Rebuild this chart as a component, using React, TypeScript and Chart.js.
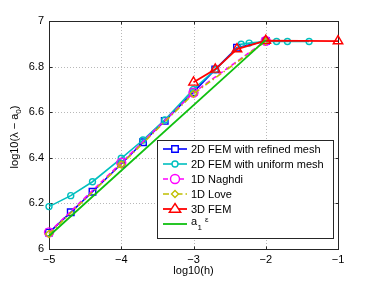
import React, { useEffect, useRef } from "react";
import { Chart, registerables } from "chart.js";

Chart.register(...registerables);

const xTicks = [-5, -4, -3, -2, -1];
const yTicks = [6, 6.2, 6.4, 6.6, 6.8, 7];

const refinedX = [-5, -4.699, -4.398, -4, -3.699, -3.398, -3, -2.699, -2.398, -2];
const refinedY = [6.072, 6.161, 6.251, 6.373, 6.468, 6.562, 6.688, 6.788, 6.883, 6.912];

const uniformX = [-5, -4.699, -4.398, -4, -3.699, -3.398, -3, -2.699, -2.34, -2.23, -2, -1.85, -1.7, -1.4];
const uniformY = [6.186, 6.234, 6.295, 6.398, 6.478, 6.566, 6.7, 6.786, 6.898, 6.903, 6.91, 6.91, 6.91, 6.91];

const naghdiX = [-5, -4, -3, -2];
const naghdiY = [6.073, 6.378, 6.686, 6.913];

const loveX = [-5, -4, -3, -2];
const loveY = [6.066, 6.371, 6.681, 6.911];

const fem3dX = [-3, -2.699, -2.398, -2, -1];
const fem3dY = [6.731, 6.788, 6.877, 6.914, 6.912];

const epsX = [-5, -2];
const epsY = [6.057, 6.917];

const labels = [
  "2D FEM with refined mesh",
  "2D FEM with uniform mesh",
  "1D Naghdi",
  "1D Love",
  "3D FEM",
  "a1 ε",
];

const FONT = "'Liberation Sans', Arial, Helvetica, sans-serif";

const pts = (xs: number[], ys: number[]) => xs.map((x, i) => ({ x, y: ys[i] }));

const fmtMinus = (v: number) => {
  const r = Math.round(v * 1000) / 1000;
  const s = Math.abs(r).toString();
  return r < 0 ? "\u2212" + s : s;
};

function drawMarker(ctx: CanvasRenderingContext2D, style: string, x: number, y: number, r: number) {
  ctx.beginPath();
  if (style === "circle") {
    ctx.arc(x, y, r, 0, Math.PI * 2);
  } else if (style === "rect") {
    const s = r * Math.SQRT1_2;
    ctx.rect(x - s, y - s, 2 * s, 2 * s);
  } else if (style === "rectRot") {
    ctx.moveTo(x, y - r);
    ctx.lineTo(x + r, y);
    ctx.lineTo(x, y + r);
    ctx.lineTo(x - r, y);
    ctx.closePath();
  } else if (style === "triangle") {
    ctx.moveTo(x, y - r);
    ctx.lineTo(x + r * 1.04, y + r * 0.6);
    ctx.lineTo(x - r * 1.04, y + r * 0.6);
    ctx.closePath();
  }
  ctx.fill();
  ctx.stroke();
}

export default function App() {
  const ref = useRef<HTMLCanvasElement | null>(null);

  useEffect(() => {
    document.body.style.margin = "0";
    const canvas = ref.current;
    if (!canvas) return;

    const framePlugin = {
      id: "frame",
      beforeDatasetsDraw(chart: any) {
        const { ctx, chartArea: a, scales } = chart;
        const xs = scales.x, ys = scales.y;
        ctx.save();
        ctx.strokeStyle = "#b8b8b8";
        ctx.lineWidth = 1;
        ctx.setLineDash([1, 2]);
        xTicks.forEach((t) => {
          const px = Math.round(xs.getPixelForValue(t)) + 0.5;
          ctx.beginPath();
          ctx.moveTo(px, a.top);
          ctx.lineTo(px, a.bottom);
          ctx.stroke();
        });
        yTicks.forEach((t) => {
          const py = Math.round(ys.getPixelForValue(t)) + 0.5;
          ctx.beginPath();
          ctx.moveTo(a.left, py);
          ctx.lineTo(a.right, py);
          ctx.stroke();
        });
        ctx.setLineDash([]);
        ctx.strokeStyle = "#262626";
        ctx.lineWidth = 1;
        const L = Math.round(a.left) + 0.5, R = Math.round(a.right) + 0.5;
        const T = Math.round(a.top) + 0.5, B = Math.round(a.bottom) + 0.5;
        ctx.strokeRect(L, T, R - L, B - T);
        const tl = 3;
        xTicks.forEach((t) => {
          const px = Math.round(xs.getPixelForValue(t)) + 0.5;
          ctx.beginPath();
          ctx.moveTo(px, B); ctx.lineTo(px, B - tl);
          ctx.moveTo(px, T); ctx.lineTo(px, T + tl);
          ctx.stroke();
        });
        yTicks.forEach((t) => {
          const py = Math.round(ys.getPixelForValue(t)) + 0.5;
          ctx.beginPath();
          ctx.moveTo(L, py); ctx.lineTo(L + tl, py);
          ctx.moveTo(R, py); ctx.lineTo(R - tl, py);
          ctx.stroke();
        });
        ctx.restore();
      },
      afterDraw(chart: any) {
        const { ctx, chartArea: a } = chart;
        ctx.save();
        ctx.fillStyle = "#000";
        ctx.font = `11px ${FONT}`;
        ctx.textAlign = "center";
        ctx.textBaseline = "alphabetic";
        ctx.fillText("log10(h)", (a.left + a.right) / 2, 274);

        ctx.save();
        ctx.translate(18, 137);
        ctx.rotate(-Math.PI / 2);
        const p1 = "log10(λ − a";
        const p2 = "0";
        const p3 = ")";
        ctx.font = `11px ${FONT}`;
        const w1 = ctx.measureText(p1).width;
        const w3 = ctx.measureText(p3).width;
        ctx.font = `8px ${FONT}`;
        const w2 = ctx.measureText(p2).width;
        const total = w1 + w2 + w3;
        const x0 = -total / 2;
        ctx.textAlign = "left";
        ctx.font = `11px ${FONT}`;
        ctx.fillText(p1, x0, 0);
        ctx.font = `8px ${FONT}`;
        ctx.fillText(p2, x0 + w1, 3);
        ctx.font = `11px ${FONT}`;
        ctx.fillText(p3, x0 + w1 + w2, 0);
        ctx.restore();

        const bx = 157.5, by = 140.5, bw = 176, bh = 98;
        ctx.fillStyle = "#fff";
        ctx.fillRect(bx, by, bw, bh);
        ctx.strokeStyle = "#262626";
        ctx.lineWidth = 1;
        ctx.strokeRect(bx, by, bw, bh);
        const ds = chart.data.datasets;
        const rowY = [149, 164, 179, 194, 209, 224];
        ds.forEach((d: any, i: number) => {
          const y = rowY[i];
          ctx.save();
          ctx.strokeStyle = d.borderColor;
          ctx.lineWidth = d.borderWidth;
          ctx.setLineDash(d.borderDash || []);
          ctx.beginPath();
          ctx.moveTo(163, y);
          ctx.lineTo(187, y);
          ctx.stroke();
          ctx.setLineDash([]);
          if (d.pointRadius > 0) {
            ctx.lineWidth = d.pointBorderWidth || 1;
            ctx.strokeStyle = d.borderColor;
            ctx.fillStyle = "#fff";
            drawMarker(ctx, d.pointStyle, 175, y, d.pointRadius);
          }
          ctx.restore();
          ctx.fillStyle = "#000";
          ctx.textAlign = "left";
          ctx.textBaseline = "middle";
          ctx.font = `11px ${FONT}`;
          if (i < 5) {
            ctx.fillText(labels[i], 191, y + 1);
          } else {
            ctx.fillText("a", 191, y - 2);
            const wa = ctx.measureText("a").width;
            ctx.font = `8px ${FONT}`;
            ctx.fillText("1", 191 + wa + 0.5, y + 4);
            ctx.fillText("ε", 191 + wa + 8, y - 4);
          }
        });
        ctx.restore();
      },
    };

    const mk = (
      label: string,
      xs: number[],
      ys: number[],
      color: string,
      style: string | false,
      radius: number,
      dash: number[],
      order: number,
      width = 1.6
    ) => ({
      label,
      data: pts(xs, ys),
      borderColor: color,
      backgroundColor: "rgba(255,255,255,0)",
      borderWidth: width,
      borderDash: dash,
      pointStyle: style || "circle",
      pointRadius: style ? radius : 0,
      pointHoverRadius: style ? radius : 0,
      pointBorderColor: color,
      pointBackgroundColor: "rgba(255,255,255,0)",
      pointBorderWidth: 1.4,
      fill: false,
      tension: 0,
      clip: false,
      order,
    });

    const chart = new Chart(canvas, {
      type: "line",
      data: {
        datasets: [
          mk(labels[0], refinedX, refinedY, "#0000ff", "rect", 4.6, [], 5),
          mk(labels[1], uniformX, uniformY, "#00bfbf", "circle", 3, [], 4),
          mk(labels[2], naghdiX, naghdiY, "#ff00ff", "circle", 4.5, [5, 3], 3),
          mk(labels[3], loveX, loveY, "#bfbf00", "rectRot", 3.5, [6, 3, 1.5, 3], 2),
          mk(labels[4], fem3dX, fem3dY, "#ff0000", "triangle", 5.5, [], 1, 1.8),
          mk(labels[5], epsX, epsY, "#10c010", false, 0, [], 0, 1.8),
        ] as any,
      },
      options: {
        animation: false,
        responsive: false,
        maintainAspectRatio: false,
        layout: { padding: { left: 0, top: 21, right: 36, bottom: 0 } },
        plugins: {
          legend: { display: false },
          tooltip: { enabled: false },
          title: { display: false },
        },
        scales: {
          x: {
            type: "linear",
            min: -5,
            max: -1,
            afterFit: (s: any) => { s.height = 32; },
            afterBuildTicks: (s: any) => { s.ticks = xTicks.map((v) => ({ value: v })); },
            grid: { display: false, drawTicks: false },
            border: { display: false },
            ticks: {
              padding: 4,
              color: "#000",
              font: { family: FONT, size: 11 },
              callback: (v: any) => fmtMinus(Number(v)),
              maxRotation: 0,
            },
          },
          y: {
            type: "linear",
            min: 6,
            max: 7,
            afterFit: (s: any) => { s.width = 49; },
            afterBuildTicks: (s: any) => { s.ticks = yTicks.map((v) => ({ value: v })); },
            grid: { display: false, drawTicks: false },
            border: { display: false },
            ticks: {
              padding: 5,
              color: "#000",
              font: { family: FONT, size: 11 },
              callback: (v: any) => fmtMinus(Number(v)),
            },
          },
        },
      } as any,
      plugins: [framePlugin],
    });

    return () => chart.destroy();
  }, []);

  return (
    <div style={{ width: 374, height: 281, background: "#fff" }}>
      <canvas ref={ref} width={374} height={281} style={{ display: "block" }} />
    </div>
  );
}
